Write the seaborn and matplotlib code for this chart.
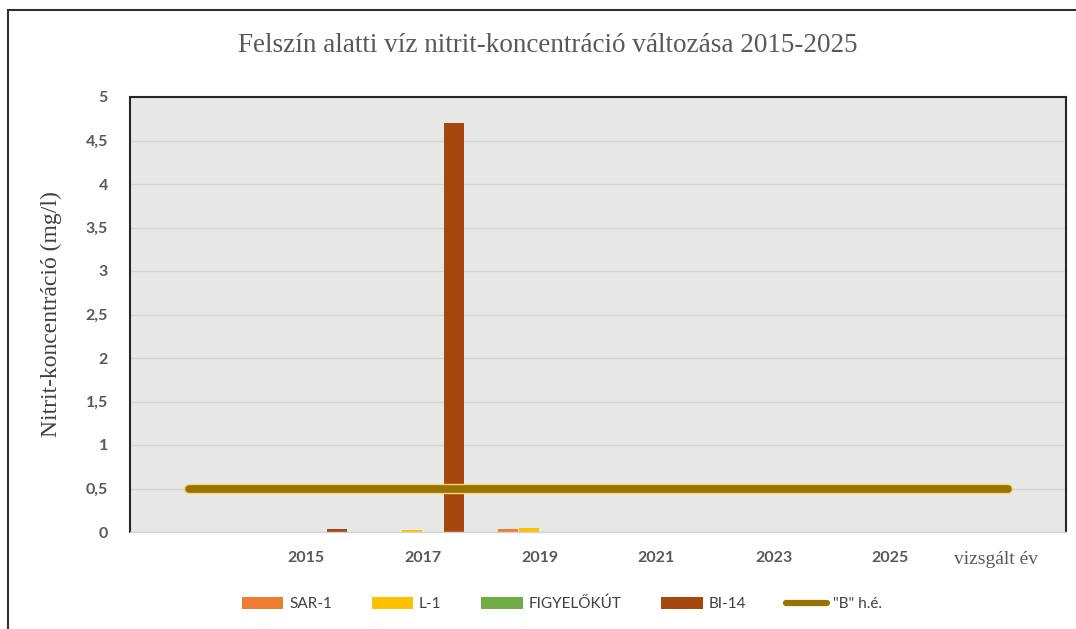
import numpy as np
import pandas as pd
import matplotlib
matplotlib.use("Agg")
import matplotlib.pyplot as plt
import matplotlib.transforms as mtransforms
import seaborn as sns
from matplotlib.patches import Rectangle, Patch
from matplotlib.lines import Line2D

# ---- data ----
categories = ["", "2015", "2017", "2019", "2021", "2023", "2025", "vizsgált év"]
series_names = ["SAR-1", "L-1", "FIGYELŐKÚT", "BI-14"]
sar1 = [0, 0, 0, 0.03, 0, 0, 0, 0]
l1 = [0, 0, 0.02, 0.05, 0, 0, 0, 0]
figyelokut = [0, 0, 0, 0, 0, 0, 0, 0]
bi14 = [0, 0.035, 4.7, 0, 0, 0, 0, 0]
limit_name = '"B" h.é.'
limit_values = [0.5, 0.5, 0.5, 0.5, 0.5, 0.5, 0.5, 0.5]
yticks = [0, 0.5, 1, 1.5, 2, 2.5, 3, 3.5, 4, 4.5, 5]

title = "Felszín alatti víz nitrit-koncentráció változása 2015-2025"
ylabel = "Nitrit-koncentráció (mg/l)"

colors = {"SAR-1": "#ED7D31", "L-1": "#FFC000", "FIGYELŐKÚT": "#70AD47", "BI-14": "#A5470F"}
line_color = "#997300"

rows = []
for name, vals in zip(series_names, [sar1, l1, figyelokut, bi14]):
    for c, v in zip(categories, vals):
        rows.append({"cat": c, "series": name, "value": v})
df = pd.DataFrame(rows)

sns.set_theme(style="white")
plt.rcParams["font.family"] = ["DejaVu Sans"]

fig = plt.figure(figsize=(10.76, 6.29), dpi=100)
W, H = 1076, 629
ax = fig.add_axes([130 / W, 1 - 532 / H, (1066 - 130) / W, (532 - 97) / H])
ax.set_facecolor("#E8E8E8")

sns.barplot(data=df, x="cat", y="value", hue="series", order=categories,
            hue_order=series_names, palette=colors, width=0.72, gap=0.08,
            saturation=1, linewidth=0, ax=ax, legend=False, errorbar=None)

xpos = np.arange(len(categories))
ax.plot(xpos, limit_values, color="#F5D77A", lw=7.5, solid_capstyle="round", zorder=4)
sns.lineplot(x=xpos, y=limit_values, color=line_color, lw=5.5, ax=ax, zorder=5)
ax.lines[-1].set_solid_capstyle("round")

ax.set_xlim(-0.5, len(categories) - 0.5)
ax.set_ylim(0, 5)
ax.set_yticks(yticks)
ax.set_yticklabels([("%g" % v).replace(".", ",") for v in yticks])
ax.yaxis.grid(True, color="#D4D4D4", lw=1)
ax.set_axisbelow(True)
ax.tick_params(axis="both", length=0)
ax.tick_params(axis="y", pad=16)
ax.tick_params(axis="x", pad=14)

for t in ax.get_yticklabels():
    t.set_fontfamily(["Lato", "DejaVu Sans"])
    t.set_fontweight("bold")
    t.set_fontsize(11.5)
    t.set_color("#595959")

ax.set_xticks(xpos)
ax.set_xticklabels(categories)
for t in ax.get_xticklabels():
    if t.get_text() == "vizsgált év":
        t.set_fontfamily(["Liberation Serif", "DejaVu Serif"])
        t.set_fontsize(14)
        t.set_fontweight("normal")
        t.set_transform(t.get_transform() + mtransforms.ScaledTranslation(-12 / 100, 0, fig.dpi_scale_trans))
    else:
        t.set_fontfamily(["Lato", "DejaVu Sans"])
        t.set_fontweight("bold")
        t.set_fontsize(11.5)
    t.set_color("#595959")

ax.set_xlabel("")
ax.set_ylabel(ylabel, fontfamily=["Liberation Serif", "DejaVu Serif"], fontsize=17, color="#404040")
ax.yaxis.set_label_coords(-0.073, 0.5)

for s in ["left", "top", "right"]:
    ax.spines[s].set_visible(True)
    ax.spines[s].set_color("#262626")
    ax.spines[s].set_linewidth(1.5)
ax.spines["bottom"].set_color("#D4D4D4")
ax.spines["bottom"].set_linewidth(1)

fig.text(548 / W, 1 - 45 / H, title, ha="center", va="center",
         fontfamily=["Liberation Serif", "DejaVu Serif"], fontsize=19.5, color="#595959")

# outer frame
fig.patches.append(Rectangle((8 / W, -0.05), 1.2, 1 - 10 / H + 0.05, transform=fig.transFigure,
                             fill=False, edgecolor="#303030", lw=1.5))

handles = [Patch(facecolor=colors[n], edgecolor="none") for n in series_names]
handles.append(Line2D([0], [0], color=line_color, lw=4.5, solid_capstyle="round"))
labels = series_names + [limit_name]
leg = fig.legend(handles, labels, loc="center", bbox_to_anchor=(562 / W, 1 - 604 / H), ncol=5,
                 frameon=False, handlelength=2.7, handleheight=0.85, handletextpad=0.4,
                 columnspacing=2.6, prop={"family": ["Lato", "DejaVu Sans"], "size": 11})
for t in leg.get_texts():
    t.set_color("#404040")

fig.savefig("out.png", dpi=100)
